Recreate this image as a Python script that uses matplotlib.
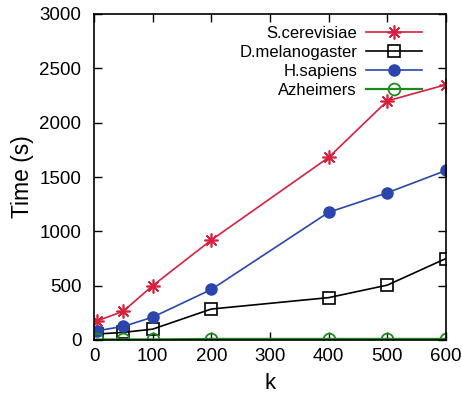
import matplotlib
matplotlib.use("Agg")
import matplotlib.pyplot as plt

plt.rcParams['font.family'] = ['Liberation Sans', 'DejaVu Sans']

k = [5, 50, 100, 200, 400, 500, 600]
s_cerevisiae = [175, 265, 500, 920, 1680, 2200, 2350]
d_melanogaster = [55, 70, 100, 285, 390, 505, 750]
h_sapiens = [85, 125, 210, 465, 1175, 1355, 1560]
azheimers = [5, 5, 5, 10, 10, 10, 10]
labels = ['S.cerevisiae', 'D.melanogaster', 'H.sapiens', 'Azheimers']

fig = plt.figure(figsize=(4.62, 3.96), dpi=100)
ax = fig.add_axes([94/462, 56/396, 352/462, 326/396])

ax.plot(k, s_cerevisiae, color='#d6203e', lw=1.2, marker=(8, 2, 0), ms=10, mew=1.2, label=labels[0])
ax.plot(k, d_melanogaster, color='black', lw=1.2, marker='s', ms=9, mfc='none', mew=1.2, label=labels[1])
ax.plot(k, h_sapiens, color='#2a46ae', lw=1.2, marker='o', ms=8, label=labels[2])
ax.plot(k, azheimers, color='#1d8a1d', lw=1.6, marker='o', ms=8.5, mfc='none', mew=1.3, label=labels[3])

ax.set_xlim(0, 600)
ax.set_ylim(0, 3000)
ax.set_xticks(range(0, 601, 100))
ax.set_yticks(range(0, 3001, 500))
ax.tick_params(direction='in', top=True, right=True, labelsize=13.5, length=6, width=1)
ax.tick_params(axis='x', pad=6)
ax.tick_params(axis='y', pad=9)
for sp in ax.spines.values():
    sp.set_linewidth(1.2)
ax.set_xlabel('k', fontsize=16)
ax.set_ylabel('Time (s)', fontsize=16.5)
ax.xaxis.set_label_coords(0.5, -0.1)
ax.yaxis.set_label_coords(-0.17, 0.5)

ax.legend(loc='upper right', bbox_to_anchor=(0.951, 0.985), borderaxespad=0,
          frameon=False, markerfirst=False, fontsize=12,
          handlelength=3.35, labelspacing=0.25, handletextpad=0.55)

fig.savefig('out.png', dpi=100)
